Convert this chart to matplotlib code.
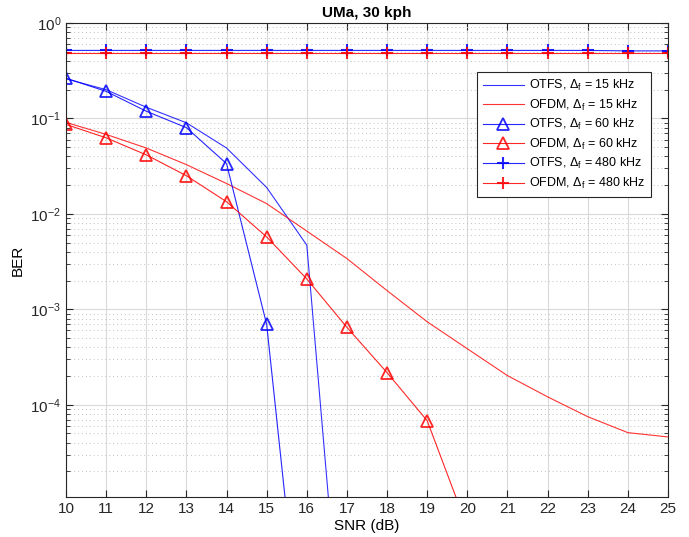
import numpy as np
import matplotlib
matplotlib.use("Agg")
import matplotlib.pyplot as plt
from matplotlib.ticker import LogLocator, NullFormatter, FixedLocator

plt.rcParams['font.family'] = ['Liberation Sans', 'DejaVu Sans']
plt.rcParams['mathtext.fontset'] = 'custom'
plt.rcParams['mathtext.rm'] = 'Liberation Sans'
plt.rcParams['mathtext.it'] = 'Liberation Sans'

snr = list(range(10, 26))

otfs_15 = [0.26, 0.20, 0.131, 0.090, 0.049, 0.0189, 0.0047, 5.7e-8]
ofdm_15 = [0.0908, 0.068, 0.049, 0.0328, 0.0208, 0.0128, 0.0066, 0.0034,
           0.00157, 7.4e-4, 3.86e-4, 2.02e-4, 1.21e-4, 7.5e-5, 5.1e-5, 4.6e-5]
otfs_60 = [0.264, 0.192, 0.119, 0.080, 0.0336, 6.95e-4, 7.6e-8]
ofdm_60 = [0.0865, 0.0626, 0.0415, 0.0251, 0.0134, 0.00573, 0.00208,
           6.47e-4, 2.17e-4, 6.8e-5, 5.2e-6]
otfs_480 = [0.516, 0.516, 0.516, 0.516, 0.516, 0.516, 0.516, 0.516,
            0.516, 0.516, 0.516, 0.516, 0.516, 0.516, 0.51, 0.51]
ofdm_480 = [0.48, 0.48, 0.48, 0.48, 0.48, 0.48, 0.48, 0.48,
            0.48, 0.48, 0.48, 0.48, 0.48, 0.48, 0.48, 0.48]

labels = [r'OTFS, $\mathregular{\Delta_f}$ = 15 kHz',
          r'OFDM, $\mathregular{\Delta_f}$ = 15 kHz',
          r'OTFS, $\mathregular{\Delta_f}$ = 60 kHz',
          r'OFDM, $\mathregular{\Delta_f}$ = 60 kHz',
          r'OTFS, $\mathregular{\Delta_f}$ = 480 kHz',
          r'OFDM, $\mathregular{\Delta_f}$ = 480 kHz']

blue = '#0000ff'
red = '#ff0000'
lw = 0.8

fig = plt.figure(figsize=(6.89, 5.37), dpi=100)
ax = fig.add_axes([0.0958, 0.0745, 0.8737, 0.8827])

ax.semilogy(snr[:len(otfs_15)], otfs_15, '-', color=blue, lw=lw, alpha=0.8, label=labels[0])
ax.semilogy(snr[:len(ofdm_15)], ofdm_15, '-', color=red, lw=lw, alpha=0.8, label=labels[1])
ax.semilogy(snr[:len(otfs_60)], otfs_60, '-^', color=blue, lw=lw, alpha=0.85, ms=8,
            mfc='none', mec=blue, mew=1.3, label=labels[2])
ax.semilogy(snr[:len(ofdm_60)], ofdm_60, '-^', color=red, lw=lw, alpha=0.85, ms=8,
            mfc='none', mec=red, mew=1.3, label=labels[3])
ax.semilogy(snr, otfs_480, '-+', color=blue, lw=lw, alpha=0.85, ms=8, mew=1.5, label=labels[4])
ax.semilogy(snr, ofdm_480, '-+', color=red, lw=lw, alpha=0.85, ms=8, mew=1.5, label=labels[5])

ax.set_xlim(10, 25)
ax.set_ylim(1.08e-5, 1)
ax.set_xticks(snr)
ax.yaxis.set_major_locator(FixedLocator([1e-4, 1e-3, 1e-2, 1e-1, 1e0]))
ax.yaxis.set_minor_locator(LogLocator(base=10, subs=np.arange(2, 10), numticks=20))
ax.yaxis.set_minor_formatter(NullFormatter())

ax.grid(True, which='major', color='#d9d9d9', lw=0.8, ls='-')
ax.grid(True, which='minor', axis='y', color='#c0c0c0', lw=0.7, ls=(0, (1, 3)))
ax.set_axisbelow(True)

ax.tick_params(which='both', direction='in', top=True, right=True, colors='#262626',
               labelsize=11)
ax.tick_params(which='major', length=5)
ax.tick_params(which='minor', length=3)
for s in ax.spines.values():
    s.set_color('#262626')
    s.set_linewidth(0.8)

ax.set_title('UMa, 30 kph', fontsize=11, fontweight='bold', pad=4)
ax.set_xlabel('SNR (dB)', fontsize=11, labelpad=2)
ax.set_ylabel('BER', fontsize=11, labelpad=4)

leg = ax.legend(loc='upper left', bbox_to_anchor=(0.683, 0.896), fontsize=9,
                frameon=True, fancybox=False, edgecolor='#262626', framealpha=1,
                handlelength=3.3, handletextpad=0.4, borderpad=0.45, labelspacing=0.36,
                borderaxespad=0)
leg.get_frame().set_linewidth(0.8)

fig.savefig('out.png', dpi=100)
